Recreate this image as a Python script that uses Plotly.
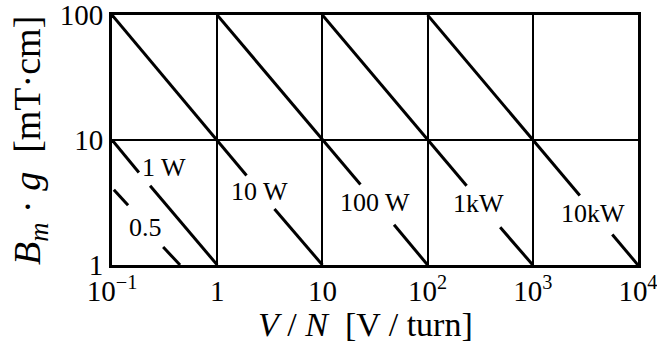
import numpy as np
import plotly.graph_objects as go

line_05_x = [0.104, 0.142, None, 0.306, 0.443]
line_05_y = [4.0, 3.0, None, 1.39, 1.0]
line_1w_x = [0.1, 0.18, None, 0.23, 1.0]
line_1w_y = [10.0, 5.5, None, 4.3, 1.0]
line_10w_x = [0.1, 1.9, None, 3.5, 10.0]
line_10w_y = [100.0, 5.2, None, 2.8, 1.0]
line_100w_x = [1.0, 23.0, None, 48.0, 100.0]
line_100w_y = [100.0, 4.4, None, 2.1, 1.0]
line_1kw_x = [10.0, 235.0, None, 490.0, 1000.0]
line_1kw_y = [100.0, 4.3, None, 2.0, 1.0]
line_10kw_x = [100.0, 2800.0, None, 5700.0, 10000.0]
line_10kw_y = [100.0, 3.6, None, 1.75, 1.0]

label_text = ["0.5", "1 W", "10 W", "100 W", "1kW", "10kW"]
label_x = [0.21, 0.31, 2.55, 31.6, 308.0, 3730.0]
label_y = [1.98, 5.97, 3.84, 3.19, 3.08, 2.56]

x_tickvals = [0.1, 1, 10, 100, 1000, 10000]
x_ticktext = ["10<sup>\u22121</sup>", "1", "10", "10<sup>2</sup>", "10<sup>3</sup>", "10<sup>4</sup>"]
y_tickvals = [1, 10, 100]
y_ticktext = ["1", "10", "100"]

serif = "Liberation Serif"

fig = go.Figure()
for xs, ys in [(line_05_x, line_05_y), (line_1w_x, line_1w_y), (line_10w_x, line_10w_y),
               (line_100w_x, line_100w_y), (line_1kw_x, line_1kw_y), (line_10kw_x, line_10kw_y)]:
    fig.add_trace(go.Scatter(x=xs, y=ys, mode="lines", line=dict(color="black", width=3),
                             showlegend=False, hoverinfo="skip", cliponaxis=False))

for t, lx, ly in zip(label_text, label_x, label_y):
    fig.add_annotation(x=np.log10(lx), y=np.log10(ly), text=t, showarrow=False,
                       font=dict(family=serif, size=26, color="black"))

# axis titles
fig.add_annotation(xref="paper", yref="paper", x=0.481, y=-0.236, xanchor="center", yanchor="middle",
                   text="<i>V</i> / <i>N</i>  [V / turn]", showarrow=False,
                   font=dict(family=serif, size=34, color="black"))
fig.add_annotation(xref="paper", yref="paper", x=-0.156, y=0.5, xanchor="center", yanchor="middle",
                   textangle=-90,
                   text="<i>B</i><sub><i>m</i></sub> \u00b7 <i>g</i>  [mT\u00b7cm]", showarrow=False,
                   font=dict(family=serif, size=38, color="black"))

fig.update_xaxes(type="log", range=[-1.0005, 4.0005], tickvals=x_tickvals, ticktext=x_ticktext,
                 showgrid=True, gridcolor="black", gridwidth=2, zeroline=False, automargin=False,
                 showline=True, mirror=True, linecolor="black", linewidth=3, ticks="",
                 ticklabelstandoff=-2, ticklabeloverflow="allow",
                 tickfont=dict(family=serif, size=29, color="black"))
fig.update_yaxes(type="log", range=[-0.0005, 2.0005], tickvals=y_tickvals, ticktext=y_ticktext,
                 showgrid=True, gridcolor="black", gridwidth=2, zeroline=False, automargin=False,
                 showline=True, mirror=True, linecolor="black", linewidth=3, ticks="",
                 ticklabeloverflow="allow",
                 tickfont=dict(family=serif, size=29, color="black"))

fig.update_layout(width=657, height=343, margin=dict(l=112, r=19, t=15, b=78),
                  plot_bgcolor="white", paper_bgcolor="white")

fig.write_html("out.html", config={"displayModeBar": False},
               post_script="document.body.style.margin='0';")
